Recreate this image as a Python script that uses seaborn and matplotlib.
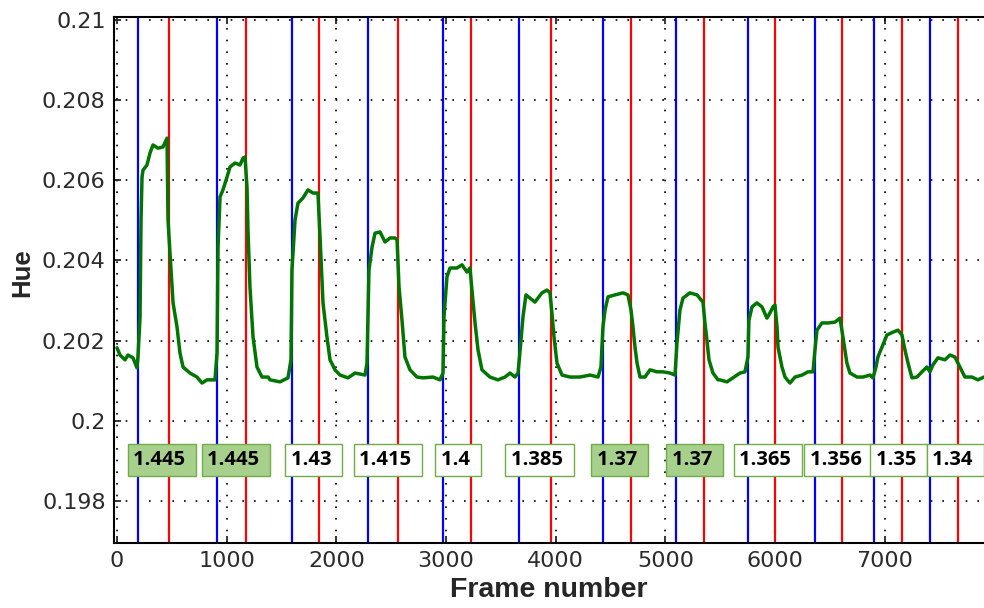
import numpy as np
import pandas as pd
import matplotlib
matplotlib.use('Agg')
import matplotlib.pyplot as plt
import seaborn as sns

# green hue trace
frame = [0, 27, 73, 100, 146, 182, 191, 210, 219, 228, 237, 273, 301, 328, 374, 419, 447, 456,
         465, 483, 511, 547, 574, 602, 665, 729, 775, 820, 893,
         912, 921, 939, 966, 1003, 1030, 1076, 1121, 1149, 1167,
         1185, 1194, 1212, 1240, 1276, 1322, 1377, 1395, 1486, 1559,
         1586, 1595, 1623, 1650, 1696, 1741, 1787, 1832,
         1851, 1878, 1914, 1942, 1987, 2033, 2106, 2170, 2261,
         2279, 2297, 2325, 2352, 2398, 2443, 2489, 2534, 2553,
         2571, 2598, 2625, 2671, 2735, 2790, 2881, 2944,
         2972, 2981, 3008, 3036, 3099, 3145, 3191, 3218,
         3236, 3264, 3291, 3327, 3400, 3473, 3537, 3583, 3628,
         3656, 3683, 3701, 3728, 3765, 3810, 3874, 3920, 3947,
         3965, 3984, 4011, 4057, 4130, 4221, 4312, 4385,
         4412, 4430, 4449, 4476, 4540, 4613, 4658,
         4686, 4704, 4722, 4741, 4768, 4813, 4859, 4923, 4977, 5041, 5087,
         5105, 5132, 5160, 5223, 5287, 5342,
         5360, 5378, 5397, 5433, 5479, 5497, 5561, 5615, 5679, 5725,
         5752, 5761, 5789, 5834, 5880, 5925, 5953, 5980, 5998,
         6017, 6026, 6062, 6090, 6135, 6181, 6245, 6299, 6345,
         6363, 6381, 6427, 6482, 6545, 6591,
         6618, 6654, 6682, 6746, 6801, 6865, 6892,
         6919, 6937, 6974, 7019, 7074, 7120, 7156,
         7183, 7211, 7247, 7293, 7338, 7384, 7411,
         7438, 7484, 7548, 7594, 7639,
         7685, 7730, 7794, 7849, 7904]
hue = [0.20182, 0.20164, 0.20152, 0.20164, 0.20157, 0.20132, 0.20159, 0.20259, 0.20501, 0.20608,
       0.20625, 0.20638, 0.20668, 0.20688, 0.20680, 0.20683, 0.20700, 0.20705,
       0.20501, 0.20418, 0.20294, 0.20234, 0.20169, 0.20134, 0.20119, 0.20109, 0.20094, 0.20102, 0.20102,
       0.20169, 0.20433, 0.20558, 0.20576, 0.20608, 0.20633, 0.20643, 0.20638, 0.20655, 0.20658,
       0.20583, 0.20476, 0.20334, 0.20209, 0.20134, 0.20109, 0.20109, 0.20102, 0.20097, 0.20107,
       0.20152, 0.20376, 0.20501, 0.20543, 0.20556, 0.20576, 0.20568, 0.20568,
       0.20458, 0.20294, 0.20209, 0.20152, 0.20127, 0.20114, 0.20107, 0.20119, 0.20114,
       0.20144, 0.20376, 0.20433, 0.20468, 0.20471, 0.20446, 0.20456, 0.20456, 0.20451,
       0.20334, 0.20251, 0.20159, 0.20127, 0.20109, 0.20107, 0.20109, 0.20102,
       0.20119, 0.20259, 0.20359, 0.20381, 0.20381, 0.20389, 0.20371, 0.20381,
       0.20326, 0.20244, 0.20177, 0.20127, 0.20109, 0.20102, 0.20109, 0.20119, 0.20109,
       0.20119, 0.20201, 0.20259, 0.20314, 0.20306, 0.20296, 0.20319, 0.20326, 0.20319,
       0.20269, 0.20209, 0.20144, 0.20114, 0.20109, 0.20109, 0.20114, 0.20109,
       0.20134, 0.20234, 0.20276, 0.20309, 0.20314, 0.20319, 0.20314,
       0.20276, 0.20234, 0.20184, 0.20144, 0.20109, 0.20109, 0.20127, 0.20122, 0.20122, 0.20119, 0.20114,
       0.20194, 0.20276, 0.20306, 0.20319, 0.20314, 0.20296,
       0.20244, 0.20201, 0.20152, 0.20119, 0.20102, 0.20102, 0.20097, 0.20107, 0.20119, 0.20122,
       0.20159, 0.20251, 0.20284, 0.20294, 0.20284, 0.20256, 0.20269, 0.20284, 0.20289,
       0.20234, 0.20184, 0.20134, 0.20109, 0.20094, 0.20109, 0.20114, 0.20122, 0.20122,
       0.20177, 0.20226, 0.20244, 0.20244, 0.20246, 0.20256,
       0.20209, 0.20144, 0.20119, 0.20109, 0.20109, 0.20114, 0.20107,
       0.20134, 0.20159, 0.20184, 0.20214, 0.20221, 0.20226, 0.20214,
       0.20177, 0.20144, 0.20107, 0.20109, 0.20122, 0.20134, 0.20122,
       0.20139, 0.20157, 0.20152, 0.20164, 0.20159,
       0.20134, 0.20109, 0.20109, 0.20102, 0.20109]

# stimulus on (blue) / off (red) frames
on_frames = [195, 910, 1595, 2290, 2975, 3665, 4430, 5095, 5750, 6365, 6905, 7410]
off_frames = [470, 1175, 1840, 2560, 3225, 3955, 4685, 5350, 6000, 6610, 7160, 7670]

# labels above the 0.198 grid line
label_text = ['1.445', '1.445', '1.43', '1.415', '1.4', '1.385', '1.37', '1.37',
              '1.365', '1.356', '1.35', '1.34']
label_x = [149, 824, 1583, 2209, 2951, 3589, 4373, 5057, 5673, 6317, 6916, 7432]
label_hl = [True, True, False, False, False, False, True, True, False, False, False, False]
label_y = 0.19902

df = pd.DataFrame({'frame': frame, 'hue': hue})

sns.set_style('ticks')
plt.rcParams['font.family'] = ['DejaVu Sans']

fig = plt.figure(figsize=(9.84, 6.08), dpi=100)
ax = fig.add_axes([0.1159, 0.1069, 0.8841, 0.865])

for xv in on_frames:
    ax.axvline(xv, color='#0000ff', lw=1.6, zorder=2)
for xv in off_frames:
    ax.axvline(xv, color='#ff0000', lw=1.6, zorder=2)

sns.lineplot(data=df, x='frame', y='hue', ax=ax, color='#007500', lw=2.5, zorder=3)

for t, xv, hl in zip(label_text, label_x, label_hl):
    ax.text(xv, label_y, t + ' ', ha='left', va='center', fontsize=14.5,
            fontweight='bold', family='Open Sans', color='black', zorder=5,
            bbox=dict(boxstyle='square,pad=0.28', fc='#a8d08d' if hl else 'white',
                      ec='#70ad47', lw=1.0))

ax.set_xlim(-27, 7904)
ax.set_ylim(0.19695, 0.21007)
ax.set_xticks(np.arange(0, 8000, 1000))
yt = [0.198, 0.2, 0.202, 0.204, 0.206, 0.208, 0.21]
ax.set_yticks(yt)
ax.set_yticklabels(['%g' % v for v in yt])

ax.grid(True, color='black', linestyle=(0, (1, 6)), lw=1.2, zorder=1)
ax.tick_params(direction='in', length=5, width=1.3, top=True, labelsize=16,
               labelcolor='#2b2b2b', pad=6)
for side in ['left', 'bottom', 'top']:
    ax.spines[side].set_color('black')
    ax.spines[side].set_linewidth(1.5)
ax.spines['right'].set_visible(False)

ax.set_xlabel('Frame number', fontsize=20.5, fontweight='bold', family='Liberation Sans')
ax.set_ylabel('Hue', fontsize=18.5, fontweight='bold', family='Liberation Sans')
ax.xaxis.set_label_coords(0.5, -0.064)
ax.yaxis.set_label_coords(-0.092, 0.515)

fig.savefig('out.png', dpi=100)
